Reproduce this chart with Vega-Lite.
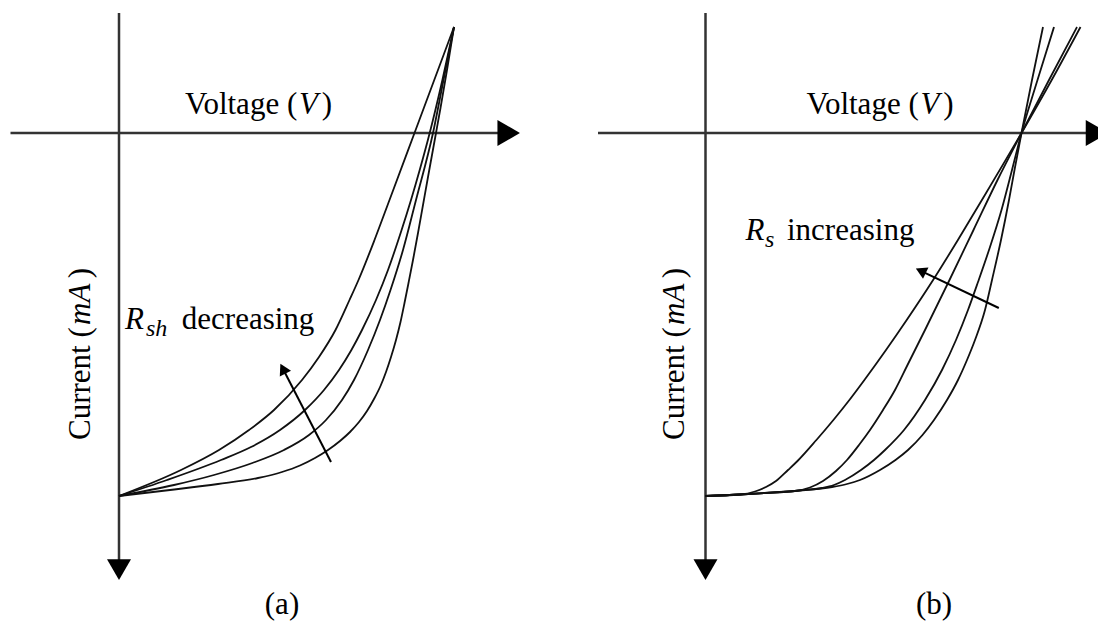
{
  "$schema": "https://vega.github.io/schema/vega-lite/v6.json",
  "padding": 0,
  "spacing": 0,
  "background": "white",
  "config": {"view": {"stroke": null}},
  "hconcat": [
    {
      "width": 549,
      "height": 628,
      "encoding": {
        "x": {"field": "v", "type": "quantitative", "scale": {"domain": [-0.2975, 1.075], "nice": false, "zero": false}, "axis": null},
        "y": {"field": "i", "type": "quantitative", "scale": {"domain": [-33.25, 123.75], "nice": false, "zero": false, "reverse": true}, "axis": null}
      },
      "layer": [
        {
          "data": {"values": [
            {"v": -0.27125, "i": 0, "v2": 0.965, "i2": 0},
            {"v": 0, "i": -30, "v2": 0, "i2": 109}
          ]},
          "mark": {"type": "rule", "color": "#333333", "strokeWidth": 2.5},
          "encoding": {"x2": {"field": "v2"}, "y2": {"field": "i2"}}
        },
        {
          "data": {"values": [{"v": 0.97425, "i": 0}]},
          "mark": {"type": "point", "shape": "triangle-right", "filled": true, "size": 676, "color": "#000000", "opacity": 1}
        },
        {
          "data": {"values": [{"v": 0, "i": 109.15}]},
          "mark": {"type": "point", "shape": "triangle-down", "filled": true, "size": 576, "color": "#000000", "opacity": 1}
        },
        {
          "data": {"values": [
            {"c": "a1", "v": 0, "i": 90.75}, {"c": "a1", "v": 0.155, "i": 84.25}, {"c": "a1", "v": 0.25, "i": 79.25}, {"c": "a1", "v": 0.325, "i": 74.25}, {"c": "a1", "v": 0.3875, "i": 69.25}, {"c": "a1", "v": 0.4575, "i": 61.75}, {"c": "a1", "v": 0.5, "i": 56}, {"c": "a1", "v": 0.54125, "i": 49.25}, {"c": "a1", "v": 0.57625, "i": 41.75}, {"c": "a1", "v": 0.59875, "i": 36.75}, {"c": "a1", "v": 0.63875, "i": 26.75}, {"c": "a1", "v": 0.67625, "i": 16.75}, {"c": "a1", "v": 0.73875, "i": 0}, {"c": "a1", "v": 0.8375, "i": -26.5},
            {"c": "a2", "v": 0, "i": 90.75}, {"c": "a2", "v": 0.12, "i": 86.75}, {"c": "a2", "v": 0.255, "i": 81.75}, {"c": "a2", "v": 0.33, "i": 78.5}, {"c": "a2", "v": 0.4025, "i": 74.25}, {"c": "a2", "v": 0.465, "i": 69.25}, {"c": "a2", "v": 0.5125, "i": 64.25}, {"c": "a2", "v": 0.55, "i": 59.25}, {"c": "a2", "v": 0.581, "i": 54.25}, {"c": "a2", "v": 0.6075, "i": 49.25}, {"c": "a2", "v": 0.6425, "i": 41.75}, {"c": "a2", "v": 0.6725, "i": 34.25}, {"c": "a2", "v": 0.7065, "i": 24.25}, {"c": "a2", "v": 0.73, "i": 16.75}, {"c": "a2", "v": 0.75175, "i": 9.25}, {"c": "a2", "v": 0.77675, "i": 0}, {"c": "a2", "v": 0.8085, "i": -13.25}, {"c": "a2", "v": 0.8375, "i": -26.5},
            {"c": "a3", "v": 0, "i": 90.75}, {"c": "a3", "v": 0.1375, "i": 88}, {"c": "a3", "v": 0.2375, "i": 85.5}, {"c": "a3", "v": 0.3335, "i": 82.5}, {"c": "a3", "v": 0.4125, "i": 79.25}, {"c": "a3", "v": 0.475, "i": 75.5}, {"c": "a3", "v": 0.5175, "i": 71.75}, {"c": "a3", "v": 0.5575, "i": 66.75}, {"c": "a3", "v": 0.5875, "i": 61.75}, {"c": "a3", "v": 0.6225, "i": 54.25}, {"c": "a3", "v": 0.6525, "i": 46.75}, {"c": "a3", "v": 0.67875, "i": 39.25}, {"c": "a3", "v": 0.71, "i": 29.25}, {"c": "a3", "v": 0.7425, "i": 16.75}, {"c": "a3", "v": 0.785, "i": 0}, {"c": "a3", "v": 0.81125, "i": -13.25}, {"c": "a3", "v": 0.8375, "i": -26.5},
            {"c": "a4", "v": 0, "i": 90.75}, {"c": "a4", "v": 0.1275, "i": 89.25}, {"c": "a4", "v": 0.2475, "i": 87.75}, {"c": "a4", "v": 0.3475, "i": 86.25}, {"c": "a4", "v": 0.4075, "i": 84.75}, {"c": "a4", "v": 0.4525, "i": 83.125}, {"c": "a4", "v": 0.49, "i": 81.25}, {"c": "a4", "v": 0.5225, "i": 79.25}, {"c": "a4", "v": 0.5525, "i": 77}, {"c": "a4", "v": 0.5775, "i": 74.75}, {"c": "a4", "v": 0.6, "i": 72.25}, {"c": "a4", "v": 0.62, "i": 69.5}, {"c": "a4", "v": 0.6375, "i": 66.5}, {"c": "a4", "v": 0.65375, "i": 63.25}, {"c": "a4", "v": 0.6675, "i": 59.75}, {"c": "a4", "v": 0.68, "i": 56}, {"c": "a4", "v": 0.6925, "i": 51.75}, {"c": "a4", "v": 0.70375, "i": 47.25}, {"c": "a4", "v": 0.71375, "i": 42.5}, {"c": "a4", "v": 0.72375, "i": 37.5}, {"c": "a4", "v": 0.735, "i": 31.75}, {"c": "a4", "v": 0.7475, "i": 25}, {"c": "a4", "v": 0.76, "i": 18}, {"c": "a4", "v": 0.7725, "i": 11}, {"c": "a4", "v": 0.7825, "i": 5.5}, {"c": "a4", "v": 0.7925, "i": 0}, {"c": "a4", "v": 0.80375, "i": -6.25}, {"c": "a4", "v": 0.82, "i": -15.75}, {"c": "a4", "v": 0.8375, "i": -26.5}
          ]},
          "mark": {"type": "line", "interpolate": "monotone", "color": "#111111", "strokeWidth": 1.8},
          "encoding": {"detail": {"field": "c"}}
        },
        {
          "data": {"values": [{"v": 0.53, "i": 82.25, "v2": 0.40975, "i2": 58.925}]},
          "mark": {"type": "rule", "color": "#000000", "strokeWidth": 2},
          "encoding": {"x2": {"field": "v2"}, "y2": {"field": "i2"}}
        },
        {
          "data": {"values": [{"v": 0.40975, "i": 58.925}]},
          "mark": {"type": "point", "shape": "triangle-up", "angle": 332.7, "filled": true, "size": 160, "color": "#000000", "opacity": 1}
        },
        {
          "data": {"values": [{"v": 0.165, "i": -4.75, "t": "Voltage ("}, {"v": 0.157, "i": 49, "t": "decreasing"}]},
          "mark": {"type": "text", "font": "Liberation Serif", "fontSize": 31, "align": "left", "baseline": "alphabetic", "color": "#000000"},
          "encoding": {"text": {"field": "t"}}
        },
        {
          "data": {"values": [{"v": 0.45, "i": -4.75, "t": "V"}, {"v": 0.015, "i": 49, "t": "R"}]},
          "mark": {"type": "text", "font": "Liberation Serif", "fontStyle": "italic", "fontSize": 31, "align": "left", "baseline": "alphabetic", "color": "#000000"},
          "encoding": {"text": {"field": "t"}}
        },
        {
          "data": {"values": [{"v": 0.5325, "i": -4.75, "t": ")"}]},
          "mark": {"type": "text", "font": "Liberation Serif", "fontSize": 31, "align": "right", "baseline": "alphabetic", "color": "#000000"},
          "encoding": {"text": {"field": "t"}}
        },
        {
          "data": {"values": [{"v": 0.0675, "i": 50.75, "t": "sh"}]},
          "mark": {"type": "text", "font": "Liberation Serif", "fontStyle": "italic", "fontSize": 24, "align": "left", "baseline": "alphabetic", "color": "#000000"},
          "encoding": {"text": {"field": "t"}}
        },
        {
          "data": {"values": [{"v": -0.0725, "i": 76.75, "t": "Current ("}]},
          "mark": {"type": "text", "font": "Liberation Serif", "fontSize": 31, "angle": 270, "align": "left", "baseline": "alphabetic", "color": "#000000"},
          "encoding": {"text": {"field": "t"}}
        },
        {
          "data": {"values": [{"v": -0.0725, "i": 48, "t": "mA"}]},
          "mark": {"type": "text", "font": "Liberation Serif", "fontStyle": "italic", "fontSize": 31, "angle": 270, "align": "left", "baseline": "alphabetic", "color": "#000000"},
          "encoding": {"text": {"field": "t"}}
        },
        {
          "data": {"values": [{"v": -0.0725, "i": 33.75, "t": ")"}]},
          "mark": {"type": "text", "font": "Liberation Serif", "fontSize": 31, "angle": 270, "align": "right", "baseline": "alphabetic", "color": "#000000"},
          "encoding": {"text": {"field": "t"}}
        },
        {
          "data": {"values": [{"v": 0.4075, "i": 120.25, "t": "(a)"}]},
          "mark": {"type": "text", "font": "Liberation Serif", "fontSize": 31, "align": "center", "baseline": "alphabetic", "color": "#000000"},
          "encoding": {"text": {"field": "t"}}
        }
      ]
    },
    {
      "width": 549,
      "height": 628,
      "encoding": {
        "x": {"field": "v", "type": "quantitative", "scale": {"domain": [-0.39125, 0.98125], "nice": false, "zero": false}, "axis": null},
        "y": {"field": "i", "type": "quantitative", "scale": {"domain": [-33.25, 123.75], "nice": false, "zero": false, "reverse": true}, "axis": null}
      },
      "layer": [
        {
          "data": {"values": [
            {"v": -0.26875, "i": 0, "v2": 0.975, "i2": 0},
            {"v": 0, "i": -30, "v2": 0, "i2": 109}
          ]},
          "mark": {"type": "rule", "color": "#333333", "strokeWidth": 2.5},
          "encoding": {"x2": {"field": "v2"}, "y2": {"field": "i2"}}
        },
        {
          "data": {"values": [{"v": 0.97875, "i": 0}]},
          "mark": {"type": "point", "shape": "triangle-right", "filled": true, "size": 676, "color": "#000000", "opacity": 1}
        },
        {
          "data": {"values": [{"v": 0, "i": 109.15}]},
          "mark": {"type": "point", "shape": "triangle-down", "filled": true, "size": 576, "color": "#000000", "opacity": 1}
        },
        {
          "data": {"values": [
            {"c": "b1", "v": 0, "i": 90.75}, {"c": "b1", "v": 0.08625, "i": 90.375}, {"c": "b1", "v": 0.14875, "i": 90}, {"c": "b1", "v": 0.23625, "i": 89.375}, {"c": "b1", "v": 0.31625, "i": 88.5}, {"c": "b1", "v": 0.35375, "i": 87.75}, {"c": "b1", "v": 0.38625, "i": 86.75}, {"c": "b1", "v": 0.43625, "i": 84.25}, {"c": "b1", "v": 0.475, "i": 81.75}, {"c": "b1", "v": 0.50625, "i": 79.25}, {"c": "b1", "v": 0.5425, "i": 75.5}, {"c": "b1", "v": 0.57125, "i": 71.75}, {"c": "b1", "v": 0.60375, "i": 66.75}, {"c": "b1", "v": 0.63125, "i": 61.75}, {"c": "b1", "v": 0.65375, "i": 56.75}, {"c": "b1", "v": 0.67375, "i": 51.75}, {"c": "b1", "v": 0.69875, "i": 44.25}, {"c": "b1", "v": 0.71625, "i": 36.75}, {"c": "b1", "v": 0.73875, "i": 26.75}, {"c": "b1", "v": 0.75875, "i": 16.75}, {"c": "b1", "v": 0.7725, "i": 9.25}, {"c": "b1", "v": 0.79, "i": 0}, {"c": "b1", "v": 0.81625, "i": -13.25}, {"c": "b1", "v": 0.84375, "i": -26.5},
            {"c": "b2", "v": 0, "i": 90.75}, {"c": "b2", "v": 0.08625, "i": 90.375}, {"c": "b2", "v": 0.14875, "i": 90}, {"c": "b2", "v": 0.23625, "i": 89.375}, {"c": "b2", "v": 0.29125, "i": 88.75}, {"c": "b2", "v": 0.32125, "i": 88}, {"c": "b2", "v": 0.34875, "i": 86.75}, {"c": "b2", "v": 0.38875, "i": 84.25}, {"c": "b2", "v": 0.42125, "i": 81.75}, {"c": "b2", "v": 0.44875, "i": 79.25}, {"c": "b2", "v": 0.49625, "i": 74.25}, {"c": "b2", "v": 0.54875, "i": 66.75}, {"c": "b2", "v": 0.59125, "i": 59.25}, {"c": "b2", "v": 0.62625, "i": 51.75}, {"c": "b2", "v": 0.65625, "i": 44.25}, {"c": "b2", "v": 0.68125, "i": 37.25}, {"c": "b2", "v": 0.70875, "i": 29.25}, {"c": "b2", "v": 0.74, "i": 19.25}, {"c": "b2", "v": 0.76625, "i": 9.25}, {"c": "b2", "v": 0.79, "i": 0}, {"c": "b2", "v": 0.83, "i": -13.25}, {"c": "b2", "v": 0.87125, "i": -26.5},
            {"c": "b3", "v": 0, "i": 90.75}, {"c": "b3", "v": 0.08625, "i": 90.375}, {"c": "b3", "v": 0.14875, "i": 90}, {"c": "b3", "v": 0.22375, "i": 89.5}, {"c": "b3", "v": 0.26125, "i": 88.625}, {"c": "b3", "v": 0.29375, "i": 87}, {"c": "b3", "v": 0.32625, "i": 84.5}, {"c": "b3", "v": 0.35375, "i": 81.75}, {"c": "b3", "v": 0.38375, "i": 78}, {"c": "b3", "v": 0.41125, "i": 74.25}, {"c": "b3", "v": 0.44375, "i": 69.25}, {"c": "b3", "v": 0.47375, "i": 64.25}, {"c": "b3", "v": 0.50375, "i": 58.25}, {"c": "b3", "v": 0.54875, "i": 49.25}, {"c": "b3", "v": 0.61, "i": 36.75}, {"c": "b3", "v": 0.67, "i": 24.25}, {"c": "b3", "v": 0.73, "i": 11.75}, {"c": "b3", "v": 0.79, "i": 0}, {"c": "b3", "v": 0.85875, "i": -13.25}, {"c": "b3", "v": 0.92875, "i": -26.5},
            {"c": "b4", "v": 0, "i": 90.75}, {"c": "b4", "v": 0.08625, "i": 90.375}, {"c": "b4", "v": 0.12375, "i": 89.625}, {"c": "b4", "v": 0.15125, "i": 88.5}, {"c": "b4", "v": 0.17625, "i": 87}, {"c": "b4", "v": 0.20625, "i": 84.25}, {"c": "b4", "v": 0.23, "i": 82}, {"c": "b4", "v": 0.27725, "i": 76.75}, {"c": "b4", "v": 0.31975, "i": 71.75}, {"c": "b4", "v": 0.35975, "i": 66.75}, {"c": "b4", "v": 0.39725, "i": 61.75}, {"c": "b4", "v": 0.45125, "i": 54.25}, {"c": "b4", "v": 0.503, "i": 46.75}, {"c": "b4", "v": 0.569, "i": 36.75}, {"c": "b4", "v": 0.631, "i": 26.75}, {"c": "b4", "v": 0.691, "i": 16.75}, {"c": "b4", "v": 0.79, "i": 0}, {"c": "b4", "v": 0.8655, "i": -13.25}, {"c": "b4", "v": 0.9375, "i": -26.5}
          ]},
          "mark": {"type": "line", "interpolate": "monotone", "color": "#111111", "strokeWidth": 1.8},
          "encoding": {"detail": {"field": "c"}}
        },
        {
          "data": {"values": [{"v": 0.73325, "i": 43.75, "v2": 0.53825, "i2": 34.45}]},
          "mark": {"type": "rule", "color": "#000000", "strokeWidth": 2},
          "encoding": {"x2": {"field": "v2"}, "y2": {"field": "i2"}}
        },
        {
          "data": {"values": [{"v": 0.53825, "i": 34.45}]},
          "mark": {"type": "point", "shape": "triangle-up", "angle": 295.5, "filled": true, "size": 160, "color": "#000000", "opacity": 1}
        },
        {
          "data": {"values": [{"v": 0.2525, "i": -4.75, "t": "Voltage ("}, {"v": 0.20375, "i": 26.75, "t": "increasing"}]},
          "mark": {"type": "text", "font": "Liberation Serif", "fontSize": 31, "align": "left", "baseline": "alphabetic", "color": "#000000"},
          "encoding": {"text": {"field": "t"}}
        },
        {
          "data": {"values": [{"v": 0.5375, "i": -4.75, "t": "V"}, {"v": 0.1, "i": 26.75, "t": "R"}]},
          "mark": {"type": "text", "font": "Liberation Serif", "fontStyle": "italic", "fontSize": 31, "align": "left", "baseline": "alphabetic", "color": "#000000"},
          "encoding": {"text": {"field": "t"}}
        },
        {
          "data": {"values": [{"v": 0.62, "i": -4.75, "t": ")"}]},
          "mark": {"type": "text", "font": "Liberation Serif", "fontSize": 31, "align": "right", "baseline": "alphabetic", "color": "#000000"},
          "encoding": {"text": {"field": "t"}}
        },
        {
          "data": {"values": [{"v": 0.149, "i": 28.5, "t": "s"}]},
          "mark": {"type": "text", "font": "Liberation Serif", "fontStyle": "italic", "fontSize": 24, "align": "left", "baseline": "alphabetic", "color": "#000000"},
          "encoding": {"text": {"field": "t"}}
        },
        {
          "data": {"values": [{"v": -0.05375, "i": 76.75, "t": "Current ("}]},
          "mark": {"type": "text", "font": "Liberation Serif", "fontSize": 31, "angle": 270, "align": "left", "baseline": "alphabetic", "color": "#000000"},
          "encoding": {"text": {"field": "t"}}
        },
        {
          "data": {"values": [{"v": -0.05375, "i": 48, "t": "mA"}]},
          "mark": {"type": "text", "font": "Liberation Serif", "fontStyle": "italic", "fontSize": 31, "angle": 270, "align": "left", "baseline": "alphabetic", "color": "#000000"},
          "encoding": {"text": {"field": "t"}}
        },
        {
          "data": {"values": [{"v": -0.05375, "i": 33.75, "t": ")"}]},
          "mark": {"type": "text", "font": "Liberation Serif", "fontSize": 31, "angle": 270, "align": "right", "baseline": "alphabetic", "color": "#000000"},
          "encoding": {"text": {"field": "t"}}
        },
        {
          "data": {"values": [{"v": 0.57125, "i": 120.25, "t": "(b)"}]},
          "mark": {"type": "text", "font": "Liberation Serif", "fontSize": 31, "align": "center", "baseline": "alphabetic", "color": "#000000"},
          "encoding": {"text": {"field": "t"}}
        }
      ]
    }
  ]
}
